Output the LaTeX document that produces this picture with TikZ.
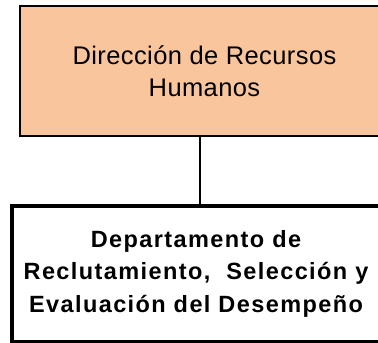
\documentclass[tikz,border=0pt]{standalone}
\usepackage{fontspec}
\setmainfont{Liberation Sans}
\newfontfamily\topfont[LetterSpace=1.6]{Liberation Sans}
\newfontfamily\botfont[LetterSpace=6,BoldFont={* Bold}]{Liberation Sans}
\definecolor{peach}{RGB}{248,197,156}
\tikzset{
  topbox/.style={draw=black, line width=1.5pt, fill=peach, rectangle, inner sep=0pt,
    align=center, font=\topfont\fontsize{25.5}{32}\selectfont},
  botbox/.style={draw=black, line width=4pt, fill=white, rectangle, inner sep=0pt,
    align=center, font=\botfont\bfseries\fontsize{23.5}{32.5}\selectfont},
  link/.style={draw=black, line width=2pt}
}
\begin{document}
\begin{tikzpicture}[x=1pt,y=-1pt]
\useasboundingbox (0,0) rectangle (378,343);
\clip (0,0) rectangle (378,343);
\node[topbox, minimum width=369pt, minimum height=130pt] (dir) at (204.5,71) {Dirección de Recursos\\Humanos};
\node[botbox, minimum width=368pt, minimum height=136.5pt] (dep) at (196,273.75) {Departamento de\\Reclutamiento,\ \ Selección y\\Evaluación del Desempeño};
\draw[link] (dir.south -| 199.5,0) -- (dep.north -| 199.5,0);
\end{tikzpicture}
\end{document}
